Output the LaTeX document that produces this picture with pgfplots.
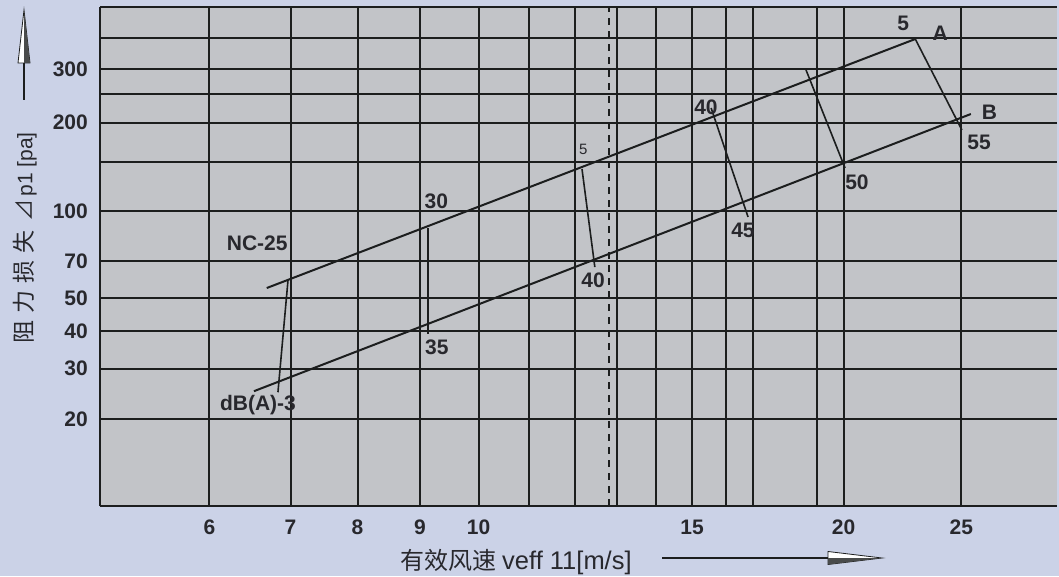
\documentclass[border=0pt]{standalone}
\usepackage{fontspec}
\usepackage{pgfplots}
\pgfplotsset{compat=1.18}
\setmainfont{Liberation Sans}
\newfontfamily\cjk{Noto Sans CJK SC}
\definecolor{bgout}{RGB}{203,210,231}
\definecolor{bgin}{RGB}{194,196,200}
\definecolor{ink}{RGB}{28,30,30}
\definecolor{txt}{RGB}{40,40,45}
\newcommand{\lab}{\fontsize{21}{21}\selectfont\bfseries}
\begin{document}
\begin{tikzpicture}
\fill[bgout] (0pt,0pt) rectangle (1059pt,576pt);
\useasboundingbox (0pt,0pt) rectangle (1059pt,576pt);
\begin{axis}[
  at={(100pt,70pt)}, anchor=south west,
  scale only axis, width=957.3pt, height=499pt,
  xmode=log, ymode=log,
  xmin=4.875, xmax=30, ymin=10.2, ymax=484.8,
  clip=false,
  axis background/.style={fill=bgin},
  separate axis lines,
  axis x line*=box, axis y line*=left,
  axis line style={ink, line width=2.2pt, -},
  major tick length=0pt, minor tick length=0pt,
  minor xtick={}, minor ytick={},
  xtick={6,7,7.95,8.95,10,15,20,25},
  xticklabels={6,7,8,9,10,15,20,25},
  extra x ticks={11,12,13,14,16,16.85,19},
  extra x tick labels={},
  ytick={20,29.5,39.5,51,68,100,198,300},
  yticklabels={20,30,40,50,70,100,200,300},
  extra y ticks={146,247,381},
  extra y tick labels={},
  extra tick style={grid=major, major tick length=0pt},
  grid=major,
  major grid style={ink, line width=2pt},
  xticklabel style={font=\lab, text=txt, inner sep=0pt, yshift=-14pt},
  yticklabel style={font=\lab, text=txt, inner sep=0pt, xshift=-12pt},
]
% dashed vertical line
\addplot[ink, line width=2pt, dash pattern=on 7pt off 6pt] coordinates {(12.81,10.2) (12.81,484.8)};
% line A
\addplot[ink, line width=2pt] coordinates {(6.69,55.1) (22.91,378.4)};
% line B
\addplot[ink, line width=2pt] coordinates {(6.53,24.8) (25.46,211.8)};
% cross segments
\addplot[ink, line width=1.6pt] coordinates {(6.966,58.6) (6.834,24.6)};
\addplot[ink, line width=1.6pt] coordinates {(9.085,87.7) (9.085,38.6)};
\addplot[ink, line width=1.6pt] coordinates {(12.17,138.4) (12.47,64.8)};
\addplot[ink, line width=1.6pt] coordinates {(15.55,221.9) (16.68,95.5)};
\addplot[ink, line width=1.6pt] coordinates {(18.62,297.8) (20.05,139.5)};
\addplot[ink, line width=1.6pt] coordinates {(22.91,378.4) (25.03,187.2)};
% annotations
\node[font=\lab, text=txt] at (axis cs:6.57,78.1) {NC-25};
\node[font=\lab, text=txt] at (axis cs:6.58,22.3) {dB(A)-3};
\node[font=\lab, text=txt] at (axis cs:9.23,108) {30};
\node[font=\lab, text=txt] at (axis cs:9.24,34.9) {35};
\node[font=\fontsize{15}{15}\selectfont, text=txt] at (axis cs:12.2,161.6) {5};
\node[font=\lab, text=txt] at (axis cs:12.43,58.6) {40};
\node[font=\lab, text=txt] at (axis cs:15.4,223.7) {40};
\node[font=\lab, text=txt] at (axis cs:16.52,86.4) {45};
\node[font=\lab, text=txt] at (axis cs:20.51,125.1) {50};
\node[font=\lab, text=txt] at (axis cs:22.39,428) {5};
\node[font=\lab, text=txt] at (axis cs:24.02,396) {A};
\node[font=\lab, text=txt] at (axis cs:26.37,215) {B};
\node[font=\lab, text=txt] at (axis cs:25.86,170.6) {55};
\end{axis}
% y-axis label
\node[rotate=90, text=txt, inner sep=0pt] at (25pt,338pt)
  {{\cjk\fontsize{23}{23}\selectfont 阻\kern7pt力\kern7pt损\kern7pt失}\kern9pt{\cjk\fontsize{22}{22}\selectfont ⊿}\kern3pt{\fontsize{21}{21}\selectfont p1 [pa]}};
% y arrow
\draw[ink, line width=1.3pt] (24pt,476pt) -- (24pt,513pt);
\filldraw[fill=white, draw=ink, line width=0.8pt] (18pt,513pt) -- (24pt,566pt) -- (30pt,513pt) -- cycle;
\fill[ink!80] (24pt,513pt) -- (24pt,566pt) -- (30pt,513pt) -- cycle;
% x-axis label
\node[anchor=west, text=txt, inner sep=0pt] at (400pt,14pt)
  {{\cjk\fontsize{24}{24}\selectfont 有效风速}\kern6pt{\fontsize{25.5}{25.5}\selectfont veff 11[m/s]}};
% x arrow
\draw[ink, line width=1.3pt] (662pt,18pt) -- (828pt,18pt);
\filldraw[fill=white, draw=ink, line width=0.8pt] (828pt,24.5pt) -- (882pt,18pt) -- (828pt,11.5pt) -- cycle;
\fill[ink!80] (828pt,18pt) -- (882pt,18pt) -- (828pt,11.5pt) -- cycle;
\end{tikzpicture}
\end{document}
